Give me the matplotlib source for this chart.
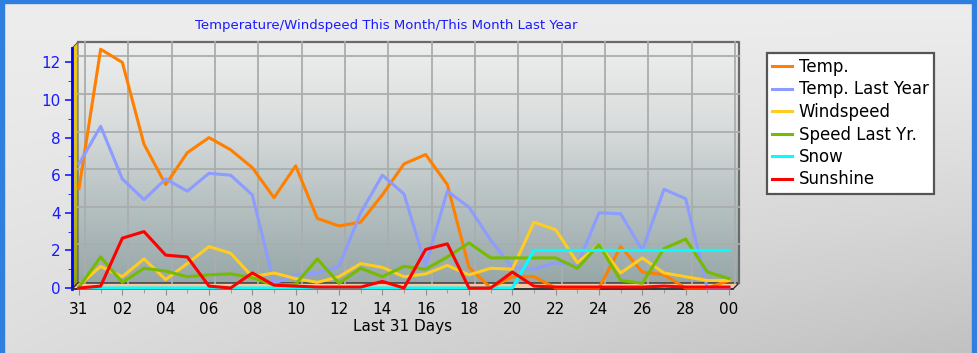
import numpy as np
import matplotlib
matplotlib.use('Agg')
import matplotlib.pyplot as plt
import matplotlib.transforms as mtransforms
from matplotlib.patches import Polygon, Rectangle
from matplotlib.colors import LinearSegmentedColormap

days = ['31', '01', '02', '03', '04', '05', '06', '07', '08', '09', '10',
        '11', '12', '13', '14', '15', '16', '17', '18', '19', '20',
        '21', '22', '23', '24', '25', '26', '27', '28', '29', '00']

temp = [5.3, 12.7, 12.0, 7.65, 5.5, 7.2, 8.0, 7.35, 6.4, 4.8, 6.5,
        3.7, 3.3, 3.5, 4.95, 6.6, 7.1, 5.5, 1.1, 0.0, 0.6,
        0.6, 0.0, 0.0, 0.0, 2.2, 0.85, 0.7, 0.0, 0.0, 0.4]
temp_ly = [6.6, 8.6, 5.8, 4.7, 5.8, 5.15, 6.1, 6.0, 4.95, 0.25, 0.7,
           0.8, 1.15, 4.0, 6.0, 5.0, 1.2, 5.15, 4.3, 2.55, 1.1,
           1.0, 1.35, 1.2, 4.0, 3.95, 2.0, 5.25, 4.75, 0.0, 0.0]
wind = [0.15, 1.15, 0.6, 1.55, 0.45, 1.3, 2.2, 1.85, 0.6, 0.8, 0.5,
        0.3, 0.6, 1.3, 1.1, 0.6, 0.75, 1.2, 0.7, 1.05, 1.0,
        3.5, 3.1, 1.35, 2.3, 0.8, 1.6, 0.8, 0.6, 0.4, 0.4]
speed_ly = [0.05, 1.65, 0.3, 1.05, 0.9, 0.6, 0.7, 0.75, 0.55, 0.15, 0.2,
            1.55, 0.25, 1.05, 0.6, 1.15, 1.0, 1.65, 2.4, 1.6, 1.6,
            1.6, 1.6, 1.05, 2.3, 0.4, 0.25, 2.1, 2.6, 0.85, 0.5]
snow = [0, 0, 0, 0, 0, 0, 0, 0, 0, 0, 0,
        0, 0, 0, 0, 0, 0, 0, 0, 0, 0,
        2.0, 2.0, 2.0, 2.0, 2.0, 2.0, 2.0, 2.0, 2.0, 2.0]
sun = [0.0, 0.1, 2.65, 3.0, 1.75, 1.65, 0.1, 0.0, 0.8, 0.15, 0.1,
       0.05, 0.05, 0.05, 0.35, 0.0, 2.05, 2.35, 0.0, 0.0, 0.85,
       0.1, 0.05, 0.05, 0.05, 0.05, 0.05, 0.1, 0.05, 0.05, 0.05]

series = [('Temp.', temp, '#ff8000'),
          ('Temp. Last Year', temp_ly, '#8c9cff'),
          ('Windspeed', wind, '#ffcc22'),
          ('Speed Last Yr.', speed_ly, '#77bb00'),
          ('Snow', snow, '#00ffff'),
          ('Sunshine', sun, '#ff0000')]

W, H = 978, 353
FL, FR, FT, FB = 72, 733, 48, 289   # front plane in pixels
D = 6                               # 3d depth

fig = plt.figure(figsize=(W / 100, H / 100), dpi=100)

# page background
bg = fig.add_axes([0, 0, 1, 1], zorder=-10)
bg.set_xlim(0, W)
bg.set_ylim(H, 0)
bg.axis('off')
yy, xx = np.mgrid[0:1:200j, 0:1:400j]
shade = 237 - 44 * (yy ** 1.3) * (0.35 + 0.65 * xx)
bg.imshow(np.dstack([shade, shade, shade]).astype(np.uint8), extent=[0, W, H, 0], aspect='auto')

# back wall gradient
wall = LinearSegmentedColormap.from_list('wall', ['#eeeeee', '#dadddd', '#b7c1c2', '#97a7a8'])
bg.imshow(np.linspace(0, 1, 256).reshape(-1, 1), cmap=wall, aspect='auto',
          extent=[FL + D, FR + D, FB - D, FT - D])

# left side wall
side = LinearSegmentedColormap.from_list('side', ['#f3c81a', '#d8c020', '#8fa012'])
poly = Polygon([(FL, FT), (FL + D, FT - D), (FL + D, FB - D), (FL, FB)], closed=True,
               facecolor='none', edgecolor='#404040', lw=0.6)
bg.add_patch(poly)
im = bg.imshow(np.linspace(0, 1, 256).reshape(-1, 1), cmap=side, aspect='auto',
               extent=[FL, FL + D, FB, FT - D])
im.set_clip_path(poly)

# floor
bg.add_patch(Polygon([(FL, FB), (FL + D, FB - D), (FR + D, FB - D), (FR, FB)], closed=True,
                     facecolor='#f7c8a6', edgecolor='#303030', lw=1.0))
# back wall frame
bg.plot([FL + D, FR + D, FR + D], [FT - D, FT - D, FB - D], color='#6a6a6a', lw=1.6)

# window border
bg.add_patch(Rectangle((0, 0), 4, H, color='#2f7fe0'))
bg.add_patch(Rectangle((0, 0), W, 3, color='#2f7fe0'))
bg.add_patch(Rectangle((W - 6, 0), 6, H, color='#2f7fe0'))

# main axes (front plane)
ax = fig.add_axes([FL / W, 1 - FB / H, (FR - FL) / W, (FB - FT) / H])
ax.set_facecolor('none')
px_x = (729 - 79) / 30.0
px_y = 18.8
ax.set_xlim(-(79 - FL) / px_x, 30 + (FR - 729) / px_x)
ax.set_ylim(-(FB - 288) / px_y, (288 - FT) / px_y)

x = np.arange(len(days))

# back-wall grid, shifted by the depth
back = mtransforms.offset_copy(ax.transData, fig=fig, x=D, y=D, units='dots')
y0, y1 = ax.get_ylim()
x0, x1 = ax.get_xlim()
for xv in x[::2]:
    ax.plot([xv, xv], [y0, y1], color='#a9adad', lw=1.3, transform=back, clip_on=False, zorder=1)
for yv in np.arange(2, 13, 2):
    ax.plot([x0, x1], [yv, yv], color='#a9adad', lw=1.3, transform=back, clip_on=False, zorder=1)

for name, vals, col in series:
    ax.plot(x, vals, color=col, lw=2.2, label=name, clip_on=False, zorder=3)

ax.set_xticks(x[::2])
ax.set_xticklabels(days[::2])
ax.set_xticks(x, minor=True)
ax.set_yticks(np.arange(0, 13, 2))
ax.set_yticks(np.arange(0, 13, 1), minor=True)

for s in ['top', 'right']:
    ax.spines[s].set_visible(False)
ax.spines['left'].set_color('#0000ff')
ax.spines['left'].set_linewidth(2)
ax.spines['bottom'].set_color('#303030')
ax.spines['bottom'].set_linewidth(1.2)

ax.tick_params(axis='y', colors='#1a1aff', labelsize=11, length=5, width=1.2, pad=3)
ax.tick_params(axis='y', which='minor', colors='#1a1aff', length=3)
ax.tick_params(axis='x', colors='#909090', labelcolor='black', labelsize=11, length=4, pad=5)
ax.tick_params(axis='x', which='minor', colors='#909090', length=3)

ax.set_xlabel('Last 31 Days', fontsize=11, labelpad=2)

fig.text(386 / W, 1 - 25 / H, 'Temperature/Windspeed This Month/This Month Last Year',
         color='#1a1aff', fontsize=9.5, ha='center', va='center')

leg = fig.legend(loc='upper left', bbox_to_anchor=(767 / W, 1 - 53 / H),
                 fontsize=12, handlelength=1.2, handletextpad=0.4, labelspacing=0.27,
                 borderpad=0.3, borderaxespad=0, fancybox=False, framealpha=1,
                 edgecolor='#555555', facecolor='white')
leg.get_frame().set_linewidth(1.6)

fig.savefig('out.png', dpi=100)
